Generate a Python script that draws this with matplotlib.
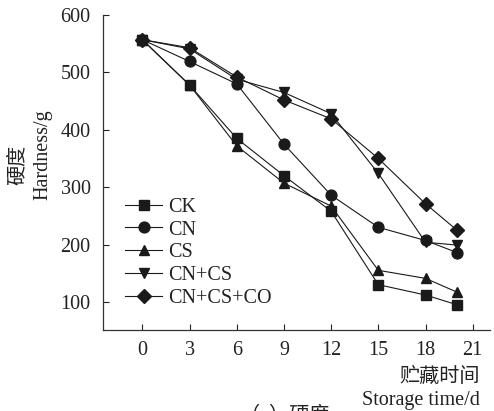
import matplotlib
matplotlib.use("Agg")
import matplotlib.pyplot as plt

plt.rcParams['font.family'] = ['Liberation Serif', 'Noto Sans CJK SC', 'DejaVu Sans']

days = [0, 3, 6, 9, 12, 15, 18, 20]
ck = [557, 478, 385, 320, 258, 130, 112, 95]
cn = [557, 519, 480, 375, 286, 230, 207, 186]
cs = [557, 478, 372, 307, 267, 155, 141, 117]
cn_cs = [557, 541, 488, 465, 428, 324, 204, 199]
cn_cs_co = [557, 543, 492, 452, 419, 350, 271, 225]

series = [("CK", ck, "s"), ("CN", cn, "o"), ("CS", cs, "^"),
          ("CN+CS", cn_cs, "v"), ("CN+CS+CO", cn_cs_co, "D")]
xticks = [0, 3, 6, 9, 12, 15, 18, 21]
yticks = [100, 200, 300, 400, 500, 600]

W, H = 494, 411
fig = plt.figure(figsize=(W/100, H/100), dpi=100)
left, right, top, bottom = 103, 490, 15, 330
ax = fig.add_axes([left/W, (H-bottom)/H, (right-left)/W, (bottom-top)/H])

col = '#1a1a1a'
for name, vals, m in series:
    ms = {'s': 7.2, 'o': 7.8, '^': 7.8, 'v': 7.8, 'D': 7.0}[m]
    ax.plot(days, vals, color=col, lw=0.8, marker=m, ms=ms, label=name,
            markerfacecolor=col, markeredgecolor=col)

ax.set_xlim(-2.5, 22.1)
ax.set_ylim(51, 600)
ax.set_xticks(xticks)
ax.set_yticks(yticks)
for s in ['top', 'right']:
    ax.spines[s].set_visible(False)
for s in ['left', 'bottom']:
    ax.spines[s].set_linewidth(0.9)
    ax.spines[s].set_color('#333333')
fs = 14.5
ax.tick_params(direction='in', length=4, width=0.8, labelsize=fs,
               colors='#222222')
ax.tick_params(axis='x', pad=8)
ax.tick_params(axis='y', pad=9)

leg = ax.legend(loc='upper left', bbox_to_anchor=(0.058, 0.42), frameon=False,
                fontsize=fs, handlelength=1.8, handletextpad=0.3,
                labelspacing=0.18, borderpad=0, borderaxespad=0)
for t in leg.get_texts():
    t.set_color('#222222')

fig.text(480/W, (H-377)/H, "贮藏时间", ha='right', va='center', fontsize=fs, color='#222222')
fig.text(480/W, (H-400)/H, "Storage time/d", ha='right', va='center', fontsize=fs, color='#222222')
fig.text(18/W, (H-165)/H, "硬度", ha='center', va='center', rotation=90, fontsize=fs, color='#222222')
fig.text(43/W, (H-155)/H, "Hardness/g", ha='center', va='center', rotation=90, fontsize=fs, color='#222222')
fig.text(285/W, (H-407)/H, "（a）硬度", ha='center', va='top', fontsize=fs, color='#222222')

fig.savefig("out.png", dpi=100)
